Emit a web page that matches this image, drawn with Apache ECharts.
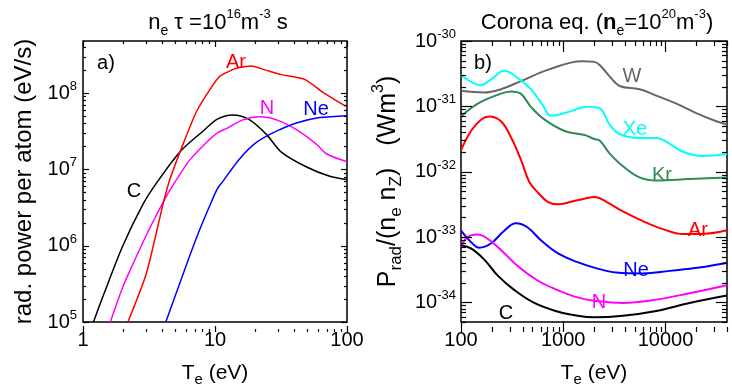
<!DOCTYPE html>
<html>
<head>
<meta charset="utf-8">
<script src="https://cdn.jsdelivr.net/npm/echarts@6/dist/echarts.min.js"></script>
<style>html,body{margin:0;padding:0;background:#fff;}#chart{width:732px;height:392px;}</style>
</head>
<body>
<div id="chart"></div>
<script>
// ---------- Panel a) : n_e tau = 1e16 m^-3 s  (eV/s per atom) ----------
const cLeftT  = [1.2, 1.42, 2.0, 2.85, 3.6, 5.4, 8.1, 10.5, 13.7, 18.3, 24.5, 31.8, 49, 74, 100];
const cLeftP  = [1e5, 2.19e5, 9.9e5, 3.5e6, 6.6e6, 1.68e7, 3.16e7, 4.57e7, 5.15e7, 4.45e7, 2.87e7, 1.68e7, 1.08e7, 8.1e6, 7.35e6];
const arLeftT = [2.19, 3.02, 4.04, 4.54, 5.73, 7.23, 9.12, 10.9, 14.5, 18.9, 24.5, 31.8, 47.9, 65.8, 100];
const arLeftP = [1e5, 4.32e5, 3.5e6, 7.28e6, 2.14e7, 5.68e7, 1.1e8, 1.66e8, 2.11e8, 2.26e8, 1.98e8, 1.74e8, 1.51e8, 1.02e8, 6.56e7];
const nLeftT  = [1.61, 2.01, 2.39, 3.2, 4.29, 5.1, 6.43, 8.61, 10.5, 12.2, 16.3, 21.8, 29.2, 41.4, 58.6, 69.8, 100];
const nLeftP  = [1e5, 2.92e5, 5.75e5, 1.69e6, 4.47e6, 7.28e6, 1.32e7, 2.25e7, 3.02e7, 3.42e7, 4.45e7, 4.9e7, 4.45e7, 3.31e7, 2.14e7, 1.6e7, 1.26e7];
const neLeftT = [4.24, 5.41, 7.23, 9.12, 10.5, 11.5, 15.4, 20.6, 29.2, 41.4, 62.1, 100];
const neLeftP = [1e5, 3.22e5, 1.26e6, 3.33e6, 5.7e6, 7.0e6, 1.38e7, 2.25e7, 3.16e7, 4.05e7, 4.76e7, 5.05e7];

// ---------- Panel b) : corona equilibrium, P_rad/(n_e n_Z) in W m^3 ----------
const wT  = [100, 169, 246, 386, 705, 1540, 2010, 2270, 2840, 3560, 5580, 8130, 12800, 20000, 31400, 40000];
const wL  = [1.73e-31, 1.63e-31, 1.83e-31, 2.43e-31, 3.61e-31, 4.9e-31, 4.79e-31, 4.28e-31, 2.88e-31, 2.05e-31, 1.83e-31, 1.46e-31, 1.1e-31, 7.85e-32, 5.9e-32, 5.27e-32];
const xeT = [100, 157, 196, 265, 358, 483, 630, 759, 1100, 1730, 2270, 2840, 3560, 5580, 8130, 11000, 14800, 23200, 40000];
const xeL = [3.05e-31, 2.1e-31, 2.57e-31, 3.49e-31, 2.72e-31, 1.83e-31, 1.04e-31, 7.16e-32, 8.13e-32, 9.82e-32, 9.33e-32, 5.27e-32, 3.76e-32, 3.28e-32, 3.28e-32, 2.67e-32, 2.02e-32, 1.74e-32, 1.86e-32];
const krT = [100, 146, 229, 308, 386, 483, 658, 1030, 1620, 2010, 2270, 2840, 3840, 5580, 8130, 17200, 40000];
const krL = [7.0e-32, 1.1e-31, 1.5e-31, 1.69e-31, 1.55e-31, 9.82e-32, 6.25e-32, 4.2e-32, 3.63e-32, 3.16e-32, 2.99e-32, 1.91e-32, 1.21e-32, 8.17e-33, 7.3e-33, 7.7e-33, 8.17e-33];
const arT = [100, 125, 157, 189, 246, 308, 386, 467, 562, 705, 881, 1190, 1610, 2030, 2640, 3840, 6010, 9440, 14800, 21500, 40000];
const arL = [2.13e-32, 4.2e-32, 6.25e-32, 7.0e-32, 5.9e-32, 3.36e-32, 1.52e-32, 6.9e-33, 4.85e-33, 3.46e-33, 3.16e-33, 3.46e-33, 3.86e-33, 4.09e-33, 3.46e-33, 2.46e-33, 1.75e-33, 1.32e-33, 1.11e-33, 1.11e-33, 1.27e-33];
const neT = [100, 125, 151, 196, 265, 345, 449, 605, 881, 1380, 2010, 3300, 6010, 11000, 21500, 40000];
const neL = [1.25e-33, 8.4e-34, 6.85e-34, 7.94e-34, 1.25e-33, 1.62e-33, 1.4e-33, 8.9e-34, 5.65e-34, 4.12e-34, 3.4e-34, 2.86e-34, 2.77e-34, 3.03e-34, 3.4e-34, 4.03e-34];
const nT  = [100, 116, 146, 182, 246, 358, 562, 881, 1380, 2010, 3840, 8130, 17200, 40000];
const nL  = [7.08e-34, 9.95e-34, 1.09e-33, 9.4e-34, 6.34e-34, 3.6e-34, 2.16e-34, 1.54e-34, 1.19e-34, 1.06e-34, 9.8e-35, 1.1e-34, 1.38e-34, 1.82e-34];
const cT  = [100, 125, 169, 229, 333, 521, 881, 1380, 2010, 3840, 8130, 17200, 40000];
const cL  = [7.5e-34, 6.68e-34, 4.51e-34, 2.56e-34, 1.54e-34, 9.8e-35, 7.23e-35, 6.22e-35, 5.89e-35, 6.22e-35, 7.36e-35, 9.8e-35, 1.27e-34];

// axis ranges and tick labels
const leftX = [1, 100], leftY = [1e5, 4.8e8];
const rightX = [100, 40000], rightY = [5e-35, 1e-30];
const leftXLabels = ['1', '10', '100'];
const rightXLabels = ['100', '1000', '10000'];

// The log scale cannot handle values as small as 1e-35, so panel b) is plotted
// in units of 1e-35 W m^3 and its tick labels carry the exponent back.
const RIGHT_UNIT_EXP = -35;
const toUnit = v => v / Math.pow(10, RIGHT_UNIT_EXP);

const FONT = '"Liberation Sans", Arial, sans-serif';
const RICH = {
  b:   {fontSize: 20, fontFamily: FONT, color: '#000', lineHeight: 26, verticalAlign: 'middle'},
  x:   {fontSize: 21, fontFamily: FONT, color: '#000', lineHeight: 28, verticalAlign: 'middle'},
  xs:  {fontSize: 15, fontFamily: FONT, color: '#000', lineHeight: 15, verticalAlign: 'bottom'},
  t:   {fontSize: 22, fontFamily: FONT, color: '#000', lineHeight: 30, verticalAlign: 'middle'},
  tb:  {fontSize: 22, fontFamily: FONT, color: '#000', lineHeight: 30, verticalAlign: 'middle', fontWeight: 'bold'},
  y:   {fontSize: 25, fontFamily: FONT, color: '#000', lineHeight: 34, verticalAlign: 'middle'},
  ys:  {fontSize: 17, fontFamily: FONT, color: '#000', lineHeight: 17, verticalAlign: 'bottom'},
  yp:  {fontSize: 16, fontFamily: FONT, color: '#000', lineHeight: 16, verticalAlign: 'top'},
  sup: {fontSize: 13, fontFamily: FONT, color: '#000', lineHeight: 13, verticalAlign: 'top'},
  sub: {fontSize: 14, fontFamily: FONT, color: '#000', lineHeight: 14, verticalAlign: 'bottom'},
  gap: {width: 22, lineHeight: 34}
};

function zip(a, b, f) { return a.map((v, i) => [v, f ? f(b[i]) : b[i]]); }
function isPow(v) { const l = Math.log10(v); return Math.abs(l - Math.round(l)) < 1e-6; }
function powLabel(offset) {
  return function (v) {
    if (!isPow(v)) return '';
    return '{b|10}{sup|' + (Math.round(Math.log10(v)) + offset) + '}';
  };
}
function xLabel(list) {
  return function (v) {
    if (!isPow(v)) return '';
    const s = String(Math.round(v));
    return list.indexOf(s) >= 0 ? s : '';
  };
}
function decadeTicks(lo, hi) {
  const major = [], minor = [];
  for (let e = Math.floor(Math.log10(lo)); e <= Math.ceil(Math.log10(hi)); e++) {
    for (let m = 1; m <= 9; m++) {
      const v = m * Math.pow(10, e);
      if (v < lo * (1 - 1e-9) || v > hi * (1 + 1e-9)) continue;
      (m === 1 ? major : minor).push(v);
    }
  }
  return {major, minor};
}

function lineSeries(name, xs, ys, color, gi, width, smooth, f) {
  return {
    type: 'line', name, xAxisIndex: gi, yAxisIndex: gi, data: zip(xs, ys, f),
    showSymbol: false, symbol: 'none', smooth: smooth, clip: true,
    lineStyle: {color, width}, z: 3, silent: true
  };
}
function txt(x, y, text, color) {
  return {
    type: 'text', x, y, silent: true, z: 10,
    style: {text, fill: color, font: '20px ' + FONT, align: 'center', verticalAlign: 'middle'}
  };
}
function richTxt(x, y, text) {
  return {
    type: 'text', x, y, silent: true, z: 10,
    style: {text, rich: RICH, align: 'center', verticalAlign: 'middle'}
  };
}

const chart = echarts.init(document.getElementById('chart'), null, {renderer: 'canvas'});

const axisCommon = {
  type: 'log', logBase: 10,
  axisLine: {show: false}, axisTick: {show: false}, splitLine: {show: false}, minorTick: {show: false}
};
const rightYUnit = rightY.map(toUnit);
const grids = [
  {left: 83, top: 41, width: 264, height: 291},
  {left: 461, top: 41, width: 266, height: 291}
];

const texts = [
  richTxt(218, 23, '{t|n}{sub|e}{t| τ =10}{sup|16}{t|m}{sup|-3}{t| s}'),
  richTxt(597, 23, '{t|Corona eq. (}{tb|n}{sub|e}{t|=10}{sup|20}{t|m}{sup|-3}{t|)}'),
  txt(106, 63, 'a)', '#000'),
  txt(236, 62, 'Ar', '#ff0000'),
  txt(267, 108, 'N', '#ff00ff'),
  txt(316, 109, 'Ne', '#0000ff'),
  txt(134, 191, 'C', '#000000'),
  txt(483, 63, 'b)', '#000'),
  txt(632, 76, 'W', '#666666'),
  txt(635, 129, 'Xe', '#00ffff'),
  txt(662, 175, 'Kr', '#2e8b57'),
  txt(698, 230, 'Ar', '#ff0000'),
  txt(636, 270, 'Ne', '#0000ff'),
  txt(599, 302, 'N', '#ff00ff'),
  txt(506, 313, 'C', '#000000')
];

const xName = '{x|T}{xs|e}{x| (eV)}';
const option = {
  backgroundColor: '#fff',
  animation: false,
  grid: grids.map(g => Object.assign({show: true, borderColor: '#000', borderWidth: 1.5, backgroundColor: 'transparent'}, g)),
  xAxis: [
    Object.assign({}, axisCommon, {
      gridIndex: 0, min: leftX[0], max: leftX[1],
      axisLabel: {formatter: xLabel(leftXLabels), fontSize: 20, fontFamily: FONT, color: '#000', margin: 8, showMinLabel: true, showMaxLabel: true},
      name: xName, nameLocation: 'middle', nameGap: 37,
      nameTextStyle: {rich: RICH}
    }),
    Object.assign({}, axisCommon, {
      gridIndex: 1, min: rightX[0], max: rightX[1],
      axisLabel: {formatter: xLabel(rightXLabels), fontSize: 20, fontFamily: FONT, color: '#000', margin: 8, showMinLabel: true},
      name: xName, nameLocation: 'middle', nameGap: 37,
      nameTextStyle: {rich: RICH}
    })
  ],
  yAxis: [
    Object.assign({}, axisCommon, {
      gridIndex: 0, min: leftY[0], max: leftY[1],
      axisLabel: {formatter: powLabel(0), rich: RICH, margin: 6, showMinLabel: true},
      name: 'rad. power per atom (eV/s)', nameLocation: 'middle', nameGap: 47, nameRotate: 90,
      nameTextStyle: {fontSize: 24, fontFamily: FONT, color: '#000'}
    }),
    Object.assign({}, axisCommon, {
      gridIndex: 1, min: rightYUnit[0], max: rightYUnit[1],
      axisLabel: {formatter: powLabel(RIGHT_UNIT_EXP), rich: RICH, margin: 5, showMaxLabel: true},
      name: '{y|P}{ys|rad}{y|/(n}{ys|e}{y| n}{ys|Z}{y|)}{gap| }{y|(Wm}{yp|3}{y|)}',
      nameLocation: 'middle', nameGap: 56, nameRotate: 90,
      nameTextStyle: {rich: RICH}
    })
  ],
  series: [
    lineSeries('C', cLeftT, cLeftP, '#000000', 0, 1.5, 0.3),
    lineSeries('N', nLeftT, nLeftP, '#ff00ff', 0, 1.5, 0.3),
    lineSeries('Ne', neLeftT, neLeftP, '#0000ff', 0, 1.5, 0.3),
    lineSeries('Ar', arLeftT, arLeftP, '#ff0000', 0, 1.5, 0.2),
    lineSeries('W', wT, wL, '#666666', 1, 2, 0.4, toUnit),
    lineSeries('Xe', xeT, xeL, '#00ffff', 1, 2, 0.4, toUnit),
    lineSeries('Kr', krT, krL, '#2e8b57', 1, 2, 0.4, toUnit),
    lineSeries('Ar', arT, arL, '#ff0000', 1, 2, 0.4, toUnit),
    lineSeries('Ne', neT, neL, '#0000ff', 1, 2, 0.4, toUnit),
    lineSeries('N', nT, nL, '#ff00ff', 1, 2, 0.4, toUnit),
    lineSeries('C', cT, cL, '#000000', 1, 2, 0.4, toUnit)
  ],
  graphic: texts
};
chart.setOption(option);

// Inward tick marks on all four sides, placed through the axes' own scales.
function tickGraphics(gi, xr, yr, majLen, minLen) {
  const g = grids[gi];
  const out = [];
  const style = {stroke: '#000', lineWidth: 1.2};
  const tx = decadeTicks(xr[0], xr[1]), ty = decadeTicks(yr[0], yr[1]);
  const addX = (v, len) => {
    const p = chart.convertToPixel({gridIndex: gi}, [v, yr[0]]);
    if (!p || !isFinite(p[0])) return;
    const x = Math.round(p[0]) + 0.5, b = g.top + g.height;
    out.push({type: 'line', silent: true, z: 8, shape: {x1: x, y1: b, x2: x, y2: b - len}, style});
    out.push({type: 'line', silent: true, z: 8, shape: {x1: x, y1: g.top, x2: x, y2: g.top + len}, style});
  };
  const addY = (v, len) => {
    const p = chart.convertToPixel({gridIndex: gi}, [xr[0], v]);
    if (!p || !isFinite(p[1])) return;
    const y = Math.round(p[1]) + 0.5, r = g.left + g.width;
    out.push({type: 'line', silent: true, z: 8, shape: {x1: g.left, y1: y, x2: g.left + len, y2: y}, style});
    out.push({type: 'line', silent: true, z: 8, shape: {x1: r, y1: y, x2: r - len, y2: y}, style});
  };
  tx.major.forEach(v => addX(v, majLen));
  tx.minor.forEach(v => addX(v, minLen));
  ty.major.forEach(v => addY(v, majLen));
  ty.minor.forEach(v => addY(v, minLen));
  return out;
}
const ticks = tickGraphics(0, leftX, leftY, 6, 3).concat(tickGraphics(1, rightX, rightYUnit, 11, 5));
chart.setOption({graphic: texts.concat(ticks)});
</script>
</body>
</html>
